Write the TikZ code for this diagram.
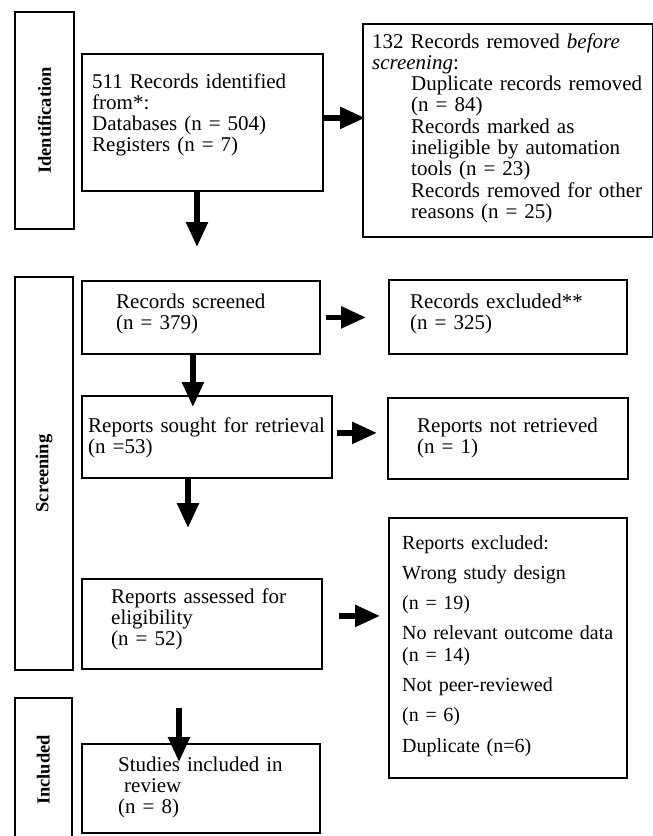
\documentclass[tikz,border=0pt]{standalone}
\usepackage{fontspec}
\setmainfont{Liberation Serif}
\usepackage{tikz}
\usetikzlibrary{arrows.meta,positioning}

\begin{document}
\begin{tikzpicture}[x=1pt, y=-1pt,
  box/.style={draw, line width=1.8pt, inner sep=0pt, anchor=north west},
  txt/.style={align=left, text width=300pt, inner sep=0pt, anchor=base west, font=\fontsize{21}{21.3}\selectfont},
  phase/.style={rotate=90, font=\fontsize{18.5}{20}\selectfont\bfseries},
  arr/.style={-{Triangle[length=25pt, width=21pt]}, line width=5.5pt}]
  \clip (0,0) rectangle (653,836);
  % ---------------- phases
  \node[box, minimum width=59pt, minimum height=217pt] (idph) at (14,11) {};
  \node[phase] (idph-t) at (idph.center) {Identification};
  \node[box, minimum width=58pt, minimum height=393pt] (scph) at (14,276) {};
  \node[phase] (scph-t) at (scph.center) {Screening};
  \node[box, minimum width=57pt, minimum height=144pt] (inph) at (14,697) {};
  \node[phase] (inph-t) at (inph.center) {Included};
  % ---------------- identification
  \node[box, minimum width=241pt, minimum height=137pt] (ident) at (81,53) {};
  \node[txt] (ident-t) at (92,88) {511 Records identified\\from*:\\Databases (n = 504)\\Registers (n = 7)};
  \node[box, minimum width=290pt, minimum height=213pt] (removed) at (362,23) {};
  \node[txt] (removed-t) at (372,48) {132 Records removed \emph{before}\\\emph{screening}:\\
     \hspace*{39pt}Duplicate records removed\\\hspace*{39pt}(n = 84)\\
     \hspace*{39pt}Records marked as\\\hspace*{39pt}ineligible by automation\\\hspace*{39pt}tools (n = 23)\\
     \hspace*{39pt}Records removed for other\\\hspace*{39pt}reasons (n = 25)};
  \draw[arr, shorten >=-3pt] ([yshift=4.5pt]ident.east) -- ([yshift=4.5pt]ident.east -| removed.west);
  \coordinate (idgap) at (197,247);
  \draw[arr] (ident.south -| idgap) -- (idgap);
  % ---------------- screening
  \node[box, minimum width=238pt, minimum height=73pt] (screened) at (81,280) {};
  \node[txt] (screened-t) at (116,308) {Records screened\\(n = 379)};
  \node[box, minimum width=238pt, minimum height=74pt] (excluded) at (388,279) {};
  \node[txt] (excluded-t) at (410,308) {Records excluded**\\(n = 325)};
  \draw[arr, shorten <=5pt, shorten >=22pt] (screened.east) -- (screened.east -| excluded.west);
  \node[box, minimum width=250pt, minimum height=82pt] (sought) at (81,395) {};
  \node[txt] (sought-t) at (88,432) {Reports sought for retrieval\\(n =53)};
  \draw[arr, shorten >=-12pt] ([xshift=-8pt]screened.south) -- ([xshift=-8pt]screened.south |- sought.north);
  \node[box, minimum width=240pt, minimum height=81pt] (notretr) at (387,397) {};
  \node[txt] (notretr-t) at (417,432) {Reports not retrieved\\(n = 1)};
  \draw[arr, shorten <=4pt, shorten >=10pt] ([yshift=4pt]sought.east) -- ([yshift=4pt]sought.east -| notretr.west);
  \coordinate (sgap) at (188,528);
  \draw[arr] (sought.south -| sgap) -- (sgap);
  \node[box, minimum width=240pt, minimum height=90pt] (assessed) at (81,578) {};
  \node[txt] (assessed-t) at (111,603) {Reports assessed for\\eligibility\\(n = 52)};
  \node[box, minimum width=238pt, minimum height=260pt] (rexcl) at (388,517) {};
  \node[txt, font=\fontsize{20}{21.3}\selectfont] (rexcl-t) at (402,549) {Reports excluded:\\[9pt]Wrong study design\\[9pt](n = 19)\\[9pt]
     No relevant outcome data\\(n = 14)\\[9pt]Not peer-reviewed\\[9pt](n = 6)\\[9pt]Duplicate (n=6)};
  \draw[arr, shorten <=16pt, shorten >=8pt] ([yshift=8pt]assessed.east) -- ([yshift=8pt]assessed.east -| rexcl.west);
  % ---------------- included
  \node[box, minimum width=238pt, minimum height=89pt] (studies) at (81,743) {};
  \node[txt] (studies-t) at (118,771) {Studies included in\\\hspace*{6pt}review\\(n = 8)};
  \coordinate (igap) at (179,708);
  \draw[arr, shorten >=-19pt] (igap) -- (igap |- studies.north);
\end{tikzpicture}
\end{document}
